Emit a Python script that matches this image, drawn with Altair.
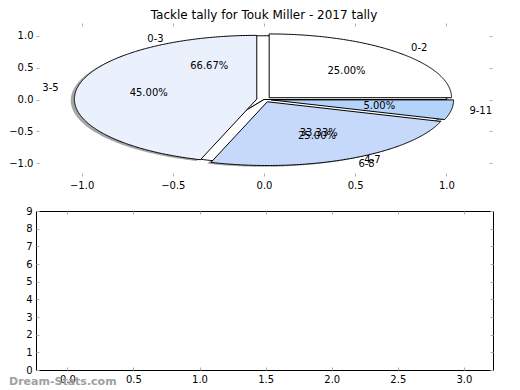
import altair as alt
import numpy as np
import pandas as pd

title_text = "Tackle tally for Touk Miller - 2017 tally"
watermark = "Dream-Stats.com"

# pie 1 (tallies per bracket)
pie1_labels = ["0-2", "3-5", "6-8", "9-11"]
pie1_values = [5, 9, 5, 1]
pie1_colors = ["#ffffff", "#eaf1fd", "#c6d9fa", "#b3d3fb"]
pie1_explode = [0.04, 0.04, 0.04, 0.04]

# pie 2 (drawn underneath)
pie2_labels = ["0-3", "4-7"]
pie2_values = [2, 1]
pie2_colors = ["#ffffff", "#ffffff"]
pie2_explode = [0.0, 0.0]

x_ticks_top = [-1.0, -0.5, 0.0, 0.5, 1.0]
y_ticks_top = [-1.0, -0.5, 0.0, 0.5, 1.0]
x_ticks_bottom = [0.0, 0.5, 1.0, 1.5, 2.0, 2.5, 3.0]
y_ticks_bottom = [0, 1, 2, 3, 4, 5, 6, 7, 8, 9]

FONT = "DejaVu Sans"
TICK_GREY = "#b0b0b0"


def build_pie(name, labels, values, colors, explode, dx=0.0, dy=0.0):
    total = float(sum(values))
    start = 0.0
    poly, texts = [], []
    for lab, v, c, ex in zip(labels, values, colors, explode):
        frac = v / total
        t1, t2 = start, start + 360.0 * frac
        mid = np.deg2rad((t1 + t2) / 2)
        cx = dx + ex * np.cos(mid)
        cy = dy + ex * np.sin(mid)
        angs = np.deg2rad(np.linspace(t1, t2, max(int((t2 - t1) * 2), 3)))
        pts = [(cx, cy)] + [(cx + np.cos(a), cy + np.sin(a)) for a in angs] + [(cx, cy)]
        for i, (px, py) in enumerate(pts):
            poly.append(dict(wedge=f"{name}-{lab}", i=i, x=px, y=py, fill=c))
        lx = cx + 1.1 * np.cos(mid)
        ly = cy + 1.1 * np.sin(mid)
        texts.append(dict(x=lx, y=ly, text=lab, kind="left" if lx > 0 else "right"))
        texts.append(dict(x=cx + 0.6 * np.cos(mid), y=cy + 0.6 * np.sin(mid),
                          text=f"{frac * 100:.2f}%", kind="center"))
        start = t2
    return pd.DataFrame(poly), pd.DataFrame(texts)


p2_poly, p2_text = build_pie("p2", pie2_labels, pie2_values, pie2_colors, pie2_explode)
p1_poly, p1_text = build_pie("p1", pie1_labels, pie1_values, pie1_colors, pie1_explode)
sh_poly, _ = build_pie("sh", pie1_labels, pie1_values, pie1_colors, pie1_explode, -0.02, -0.02)
texts = pd.concat([p2_text, p1_text], ignore_index=True)

xs_top = alt.Scale(domain=[-1.25, 1.25], nice=False, zero=False)
ys_top = alt.Scale(domain=[-1.2, 1.2], nice=False, zero=False)


def ax_main(vals, fmt, pad):
    return alt.Axis(values=vals, format=fmt, domain=False, grid=False, title=None,
                    offset=-3, tickSize=3, tickColor=TICK_GREY, tickWidth=1,
                    labelFont=FONT, labelFontSize=10, labelColor="black",
                    labelPadding=pad, labelFlush=False, labelOverlap=False)


def ax_ticks(vals, orient):
    return alt.Axis(values=vals, orient=orient, domain=False, grid=False, title=None,
                    offset=-3, tickSize=3, tickColor=TICK_GREY, tickWidth=1, labels=False)


shadow = alt.Chart(sh_poly).mark_line(strokeWidth=0, fill="#4d4d4d", fillOpacity=0.5).encode(
    x=alt.X("x:Q", scale=xs_top, axis=None),
    y=alt.Y("y:Q", scale=ys_top, axis=None),
    detail="wedge:N", order="i:Q")

pie2 = alt.Chart(p2_poly).mark_line(stroke="black", strokeWidth=1).encode(
    x=alt.X("x:Q", scale=xs_top, axis=None),
    y=alt.Y("y:Q", scale=ys_top, axis=None),
    fill=alt.Fill("fill:N", scale=None),
    detail="wedge:N", order="i:Q")

pie1 = alt.Chart(p1_poly).mark_line(stroke="black", strokeWidth=1).encode(
    x=alt.X("x:Q", scale=xs_top, axis=None),
    y=alt.Y("y:Q", scale=ys_top, axis=None),
    fill=alt.Fill("fill:N", scale=None),
    detail="wedge:N", order="i:Q")

text_layers = []
for kind in ["left", "right", "center"]:
    text_layers.append(
        alt.Chart(texts).transform_filter(alt.datum.kind == kind)
        .mark_text(align=kind, baseline="middle", font=FONT, fontSize=10, color="black")
        .encode(x=alt.X("x:Q", scale=xs_top, axis=None),
                y=alt.Y("y:Q", scale=ys_top, axis=None),
                text="text:N"))

tick_df_top = pd.DataFrame({"x": x_ticks_top, "y": y_ticks_top})
axes_main_top = alt.Chart(tick_df_top).mark_point(opacity=0).encode(
    x=alt.X("x:Q", scale=xs_top, axis=ax_main(x_ticks_top, ".1f", 4)),
    y=alt.Y("y:Q", scale=ys_top, axis=ax_main(y_ticks_top, ".1f", 3)))
axes_other_top = alt.Chart(tick_df_top).mark_point(opacity=0).encode(
    x=alt.X("x:Q", scale=xs_top, axis=ax_ticks(x_ticks_top, "top")),
    y=alt.Y("y:Q", scale=ys_top, axis=ax_ticks(y_ticks_top, "right")))

top = alt.layer(axes_main_top, axes_other_top, shadow, pie2, pie1, *text_layers).resolve_axis(
    x="independent", y="independent").properties(
    width=456, height=153,
    title=alt.TitleParams(title_text, font=FONT, fontSize=12, fontWeight="normal",
                          color="black", anchor="middle", offset=1))

xs_b = alt.Scale(domain=[-0.237, 3.22], nice=False, zero=False)
ys_b = alt.Scale(domain=[0, 9], nice=False, zero=False)
bdf = pd.DataFrame({"x": x_ticks_bottom, "y": [0] * len(x_ticks_bottom)})
b_main = alt.Chart(bdf).mark_point(opacity=0).encode(
    x=alt.X("x:Q", scale=xs_b, axis=ax_main(x_ticks_bottom, ".1f", 4)),
    y=alt.Y("y:Q", scale=ys_b, axis=ax_main(y_ticks_bottom, "d", 4)))
b_other = alt.Chart(bdf).mark_point(opacity=0).encode(
    x=alt.X("x:Q", scale=xs_b, axis=ax_ticks(x_ticks_bottom, "top")),
    y=alt.Y("y:Q", scale=ys_b, axis=ax_ticks(y_ticks_bottom, "right")))
wm = alt.Chart(pd.DataFrame({"t": [watermark]})).mark_text(
    align="left", baseline="middle", font=FONT, fontSize=11, fontWeight="bold",
    color="#a0a0a0").encode(x=alt.value(-27), y=alt.value(171), text="t:N")

bottom = alt.layer(b_main, b_other, wm).resolve_axis(
    x="independent", y="independent").properties(
    width=457, height=159,
    view=alt.ViewBackground(stroke="black", strokeWidth=1))

chart = alt.vconcat(top, bottom, spacing=15).properties(
    padding={"left": 0, "top": 0, "right": 0, "bottom": 0}
).configure_view(stroke=None)

chart.save("out.html", embed_options={"renderer": "svg", "actions": False})
